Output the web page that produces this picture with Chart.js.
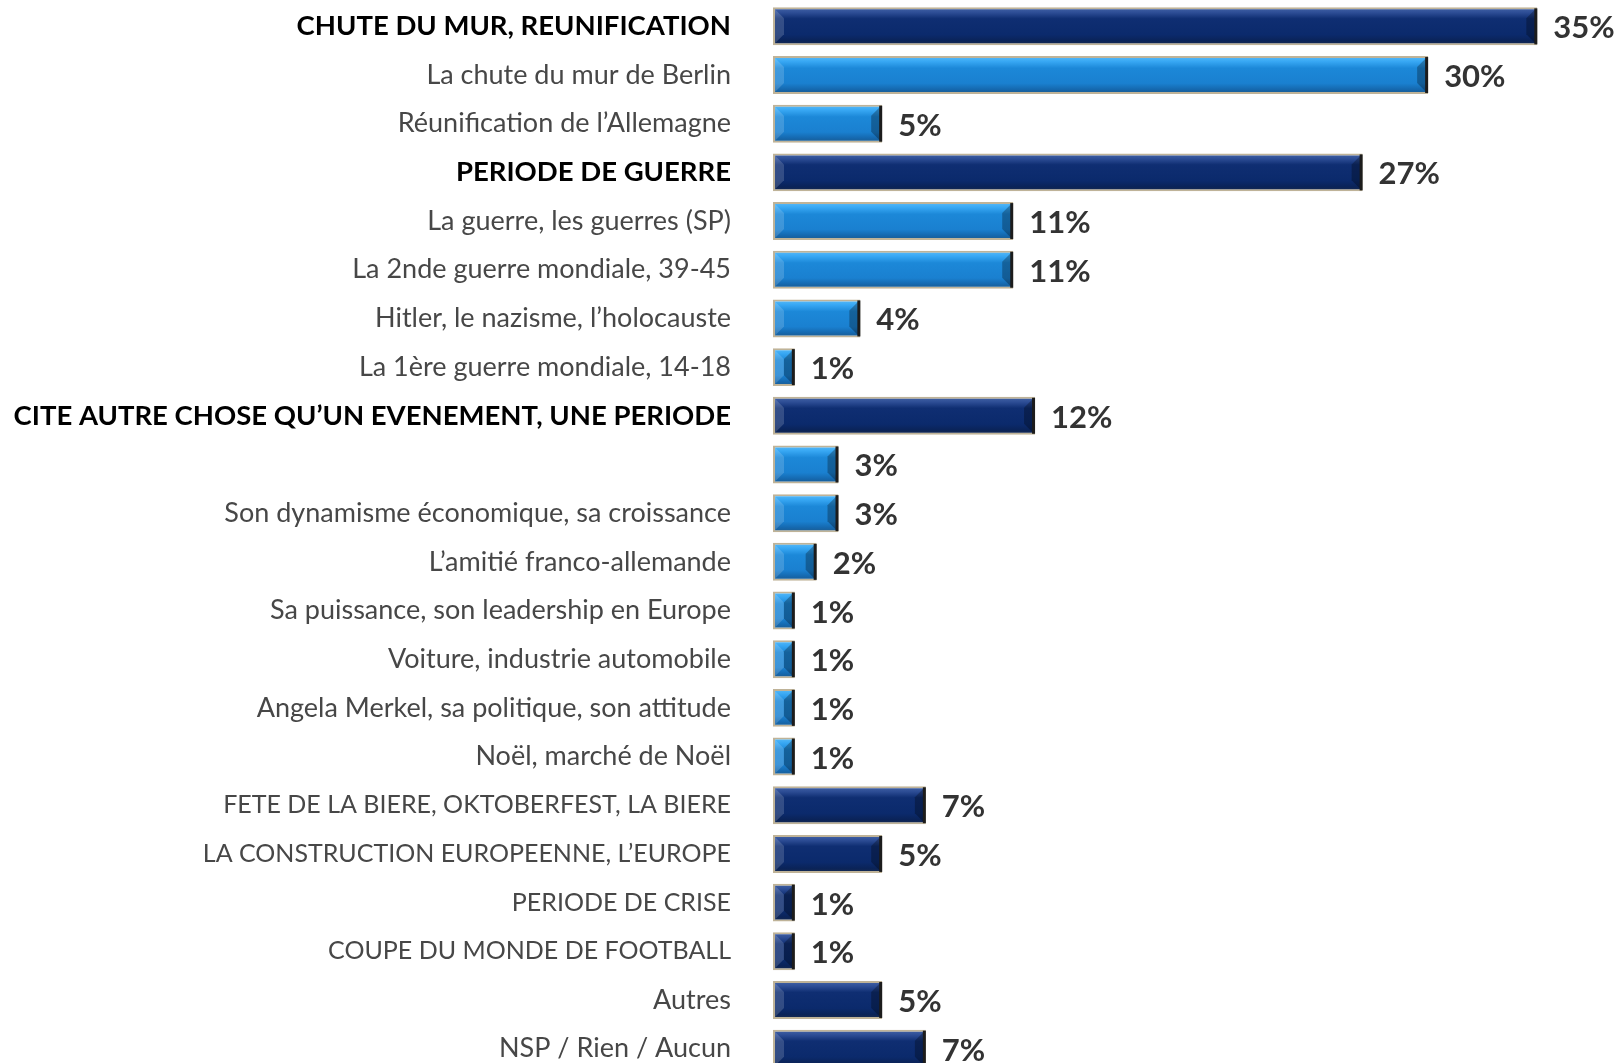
<!DOCTYPE html>
<html lang="fr">
<head>
<meta charset="utf-8">
<title>Allemagne - évocations</title>
<script src="https://cdn.jsdelivr.net/npm/chart.js@4.4.1/dist/chart.umd.min.js"></script>
<style>
  html, body { margin: 0; padding: 0; background: #fff; overflow: hidden; }
  #wrap { width: 1621px; height: 1080px; }
</style>
</head>
<body>
<div id="wrap"><canvas id="chart" width="1621" height="1080"></canvas></div>
<script>
const labels = [
  "CHUTE DU MUR, REUNIFICATION",
  "La chute du mur de Berlin",
  "Réunification de l’Allemagne",
  "PERIODE DE GUERRE",
  "La guerre, les guerres (SP)",
  "La 2nde guerre mondiale, 39-45",
  "Hitler, le nazisme, l’holocauste",
  "La 1ère guerre mondiale, 14-18",
  "CITE AUTRE CHOSE QU’UN EVENEMENT, UNE PERIODE",
  "",
  "Son dynamisme économique, sa croissance",
  "L’amitié franco-allemande",
  "Sa puissance, son leadership en Europe",
  "Voiture, industrie automobile",
  "Angela Merkel, sa politique, son attitude",
  "Noël, marché de Noël",
  "FETE DE LA BIERE, OKTOBERFEST, LA BIERE",
  "LA CONSTRUCTION EUROPEENNE, L’EUROPE",
  "PERIODE DE CRISE",
  "COUPE DU MONDE DE FOOTBALL",
  "Autres",
  "NSP / Rien / Aucun",
];
const values = [35, 30, 5, 27, 11, 11, 4, 1, 12, 3, 3, 2, 1, 1, 1, 1, 7, 5, 1, 1, 5, 7];
// rows that are headings (bold label) and rows drawn in navy instead of light blue
const headingRows = [0, 3, 8];
const navyRows = [0, 3, 8, 16, 17, 18, 19, 20, 21];

const FONT = "Lato, 'Open Sans', sans-serif";
const HALF_BAR = 19;

const barFill = (c) => {
  const chart = c.chart;
  const navy = navyRows.includes(c.dataIndex);
  const yScale = chart.scales.y;
  const cy = yScale ? yScale.getPixelForValue(c.dataIndex) : NaN;
  if (!Number.isFinite(cy)) return navy ? "#0b2a6e" : "#1a82d0";
  const g = chart.ctx.createLinearGradient(0, cy - HALF_BAR, 0, cy + HALF_BAR);
  if (navy) {
    g.addColorStop(0, "#4565a8");
    g.addColorStop(0.14, "#2d4d95");
    g.addColorStop(0.3, "#0f2e72");
    g.addColorStop(0.72, "#0b2a6c");
    g.addColorStop(0.88, "#0a2358");
    g.addColorStop(1, "#1a2c4e");
  } else {
    g.addColorStop(0, "#5cbcf8");
    g.addColorStop(0.14, "#38a8f4");
    g.addColorStop(0.32, "#1c88d8");
    g.addColorStop(0.72, "#1a80d0");
    g.addColorStop(0.88, "#1568ae");
    g.addColorStop(1, "#1d5a8c");
  }
  return g;
};

// bevel ends + value labels
const barDecor = {
  id: "barDecor",
  afterDatasetsDraw(chart) {
    const ctx = chart.ctx;
    const meta = chart.getDatasetMeta(0);
    ctx.save();
    meta.data.forEach((bar, i) => {
      const { x, y, base, height } = bar.getProps(["x", "y", "base", "height"], true);
      const top = y - height / 2 + 2;
      const bottom = y + height / 2 - 2;
      const b = Math.min(9, (x - base - 4) / 2);

      ctx.fillStyle = "rgba(255,255,255,0.16)";
      ctx.beginPath();
      ctx.moveTo(base + 2, top);
      ctx.lineTo(base + 2 + b, top + b);
      ctx.lineTo(base + 2 + b, bottom - b);
      ctx.lineTo(base + 2, bottom);
      ctx.closePath();
      ctx.fill();

      ctx.fillStyle = "rgba(0,0,0,0.28)";
      ctx.beginPath();
      ctx.moveTo(x - 2, top);
      ctx.lineTo(x - 2 - b, top + b);
      ctx.lineTo(x - 2 - b, bottom - b);
      ctx.lineTo(x - 2, bottom);
      ctx.closePath();
      ctx.fill();

      ctx.fillStyle = "#1c1c1c";
      ctx.fillRect(x - 3, top - 1, 3, bottom - top + 2);

      ctx.fillStyle = "#333333";
      ctx.font = "bold 31px " + FONT;
      ctx.textAlign = "left";
      ctx.textBaseline = "middle";
      ctx.fillText(values[i] + "%", x + 16, y + 2);
    });
    ctx.restore();
  },
};

// all-caps regular labels are narrower in the original font
const isCaps = (i) => labels[i] !== "" && labels[i] === labels[i].toUpperCase();

new Chart(document.getElementById("chart"), {
  type: "bar",
  data: {
    labels: labels,
    datasets: [
      {
        data: values,
        backgroundColor: barFill,
        borderColor: "#bfb398",
        borderWidth: 2,
        borderSkipped: false,
        barPercentage: 0.78,
        categoryPercentage: 1,
      },
    ],
  },
  options: {
    indexAxis: "y",
    responsive: false,
    animation: false,
    devicePixelRatio: 1,
    layout: { padding: { top: 2, bottom: 7, left: 0, right: 40 } },
    plugins: {
      legend: { display: false },
      tooltip: { enabled: false },
    },
    scales: {
      x: {
        display: false,
        min: 0,
        max: 37,
      },
      y: {
        grid: { display: false, drawTicks: false },
        border: { display: false },
        afterFit: (scale) => {
          scale.width = 773;
          scale.paddingTop = 0;
          scale.paddingBottom = 0;
        },
        ticks: {
          autoSkip: false,
          padding: 42,
          color: (c) => (headingRows.includes(c.index) ? "#000000" : "#474747"),
          font: (c) => {
            const head = headingRows.includes(c.index);
            return {
              family: FONT,
              size: head ? 27.5 : isCaps(c.index) ? 25 : 27,
              weight: head ? "bold" : "normal",
            };
          },
        },
      },
    },
  },
  plugins: [barDecor],
});
</script>
</body>
</html>
